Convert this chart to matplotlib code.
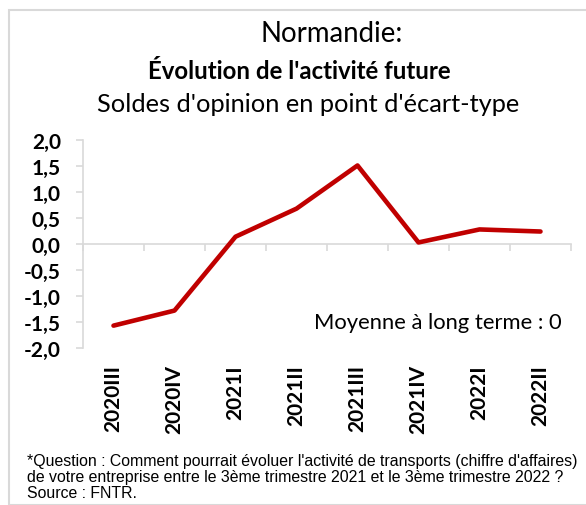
import matplotlib
matplotlib.use("Agg")
import matplotlib.pyplot as plt
import matplotlib.transforms as mtransforms
from matplotlib.patches import Rectangle

# data
categories = ["2020III", "2020IV", "2021I", "2021II", "2021III", "2021IV", "2022I", "2022II"]
values = [-1.57, -1.28, 0.14, 0.68, 1.51, 0.03, 0.28, 0.24]
yticks = [-2.0, -1.5, -1.0, -0.5, 0.0, 0.5, 1.0, 1.5, 2.0]
footnote = [
    "*Question : Comment pourrait évoluer l'activité de transports (chiffre d'affaires)",
    "de votre entreprise entre le 3ème trimestre 2021 et le 3ème trimestre 2022 ?",
    "Source : FNTR.",
]

W, H = 586, 506
fig = plt.figure(figsize=(W / 100, H / 100), dpi=100)

# light grey frame of the chart area
fig.patches.append(Rectangle((9 / W, 0), 1, 1 - 11 / H, transform=fig.transFigure,
                             fill=False, edgecolor="#d9d9d9", linewidth=1.5))

ax = fig.add_axes([83 / W, 1 - 349 / H, (571 - 83) / W, (349 - 141) / H])
x = list(range(len(categories)))
ax.plot(x, values, color="#c00000", linewidth=3.3, solid_capstyle="round", zorder=3)

ax.set_xlim(-0.5, len(categories) - 0.5)
ax.set_ylim(-2, 2)

# axes: grey left spine and zero line with tick marks
for s in ["top", "right"]:
    ax.spines[s].set_visible(False)
ax.spines["left"].set_color("#d9d9d9")
ax.spines["left"].set_linewidth(1.2)
ax.spines["bottom"].set_position(("data", 0))
ax.spines["bottom"].set_color("#d9d9d9")
ax.spines["bottom"].set_linewidth(1.2)

ax.set_yticks(yticks)
ax.set_yticklabels([f"{v:.1f}".replace(".", ",") for v in yticks],
                   fontsize=15, fontweight="bold", family="Lato")
ax.tick_params(axis="y", direction="out", length=5, color="#d9d9d9", width=1.2, pad=11)

bounds = [i - 0.5 for i in range(len(categories) + 1)]
ax.set_xticks(bounds)
ax.set_xticklabels([])
ax.tick_params(axis="x", direction="out", length=5, color="#d9d9d9", width=1.2)

# category labels at the bottom of the plot
trans = mtransforms.blended_transform_factory(ax.transData, ax.transAxes)
for xi, lab in zip(x, categories):
    ax.text(xi, -0.077, lab, transform=trans, rotation=90, ha="center", va="top",
            fontsize=15, fontweight="bold", family="Lato")

ax.text(0.98, 0.125, "Moyenne à long terme : 0", transform=ax.transAxes,
        ha="right", va="center", fontsize=15.8, family="Lato")

# titles
fig.text(332 / W, 1 - 42 / H, "Normandie:", ha="center", va="baseline", fontsize=19.9, family="Lato")
fig.text(299 / W, 1 - 79 / H, "Évolution de l'activité future", ha="center", va="baseline",
         fontsize=17.3, fontweight="bold", family="Lato")
fig.text(308 / W, 1 - 112 / H, "Soldes d'opinion en point d'écart-type", ha="center",
         va="baseline", fontsize=18.3, family="Lato")

# footnote
for i, line in enumerate(footnote):
    fig.text(27 / W, 1 - (466 + 16 * i) / H, line, ha="left", va="baseline",
             fontsize=11.4, family="Liberation Sans")

fig.savefig("out.png", dpi=100)
